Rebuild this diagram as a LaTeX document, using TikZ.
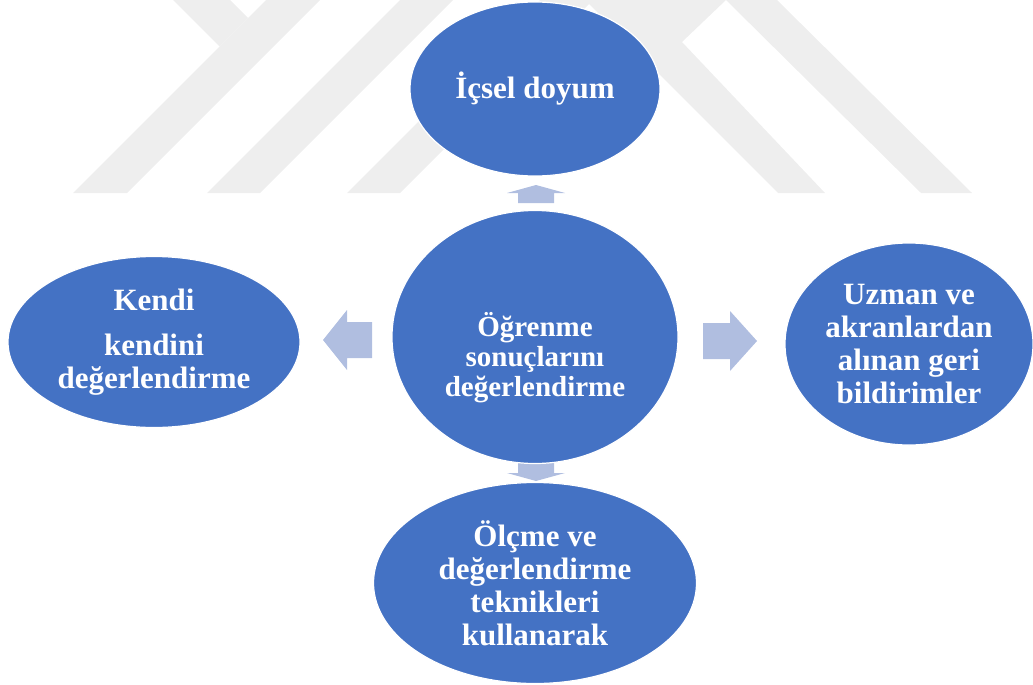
\documentclass[tikz,border=0pt]{standalone}
\usepackage{fontspec}
\setmainfont{Liberation Serif}
\usetikzlibrary{shapes.geometric}

\definecolor{bubbleblue}{HTML}{4472C4}
\definecolor{arrowblue}{HTML}{B0BEE0}
\definecolor{wmgray}{HTML}{EEEEEE}

\tikzset{
  bubble/.style={ellipse, fill=bubbleblue, draw=white, line width=1.2pt, text=white,
    inner sep=0pt, align=center, font=\bfseries\fontsize{31}{33}\selectfont},
  bubbletext/.style={text=white, inner sep=0pt, align=center, font=\bfseries\fontsize{29}{30}\selectfont},
  blockarrow/.style={fill=arrowblue},
  wmshape/.style={fill=wmgray}
}

\begin{document}
\begin{tikzpicture}[x=1pt, y=-1pt]
        \useasboundingbox (0,0) rectangle (1033,685);

        %watermark behind everything
        \fill[wmshape] (173,0) -- (230,0) -- (248,18) -- (219.5,46.5) -- cycle;
        \fill[wmshape] (266,0) -- (320,0) -- (127,193) -- (73,193) -- cycle;
        \fill[wmshape] (400,0) -- (453,0) -- (260,193) -- (207,193) -- cycle;
        \fill[wmshape] (540,0) -- (593,0) -- (400,193) -- (347,193) -- cycle;
        \fill[wmshape] (585,0) -- (726,0) -- (682,42) -- (825,193) -- (778,193) -- cycle;
        \fill[wmshape] (726,0) -- (777,0) -- (972,193) -- (921,193) -- cycle;

        \coordinate (T) at (535,89);
        \coordinate (C) at (535,337);
        \coordinate (L) at (154,342);
        \coordinate (R) at (909,344);
        \coordinate (B) at (535,583);

        \fill[blockarrow] (536,185) -- (565,193) -- (554,193) -- (554,203) -- (518,203) -- (518,193) -- (507,193) -- cycle;
        \fill[blockarrow] (323,340) -- (347,310) -- (347,322) -- (372,322) -- (372,358) -- (347,358) -- (347,370) -- cycle;
        \fill[blockarrow] (757,341) -- (730,311) -- (730,323) -- (703,323) -- (703,359) -- (730,359) -- (730,371) -- cycle;
        \fill[blockarrow] (518,460) -- (554,460) -- (554,473) -- (565,473) -- (536,481) -- (507,473) -- (518,473) -- cycle;

        \node[bubble, minimum width=250pt, minimum height=174pt] (top) at (T) {İçsel doyum};
        \node[bubble, minimum width=286pt, minimum height=253pt] (center) at (C) {};
        \node[bubbletext] (centertext) at (535,358) {Öğrenme\\sonuçlarını\\değerlendirme};
        \node[bubble, minimum width=292pt, minimum height=171pt] (left) at (L) {Kendi\\[12pt]kendini\\değerlendirme};
        \node[bubble, minimum width=248pt, minimum height=202pt] (right) at (R) {Uzman ve\\akranlardan\\alınan geri\\bildirimler};
        \node[bubble, minimum width=323pt, minimum height=201pt] (bottom) at (B) {Ölçme ve\\değerlendirme\\teknikleri\\kullanarak};
\end{tikzpicture}
\end{document}
